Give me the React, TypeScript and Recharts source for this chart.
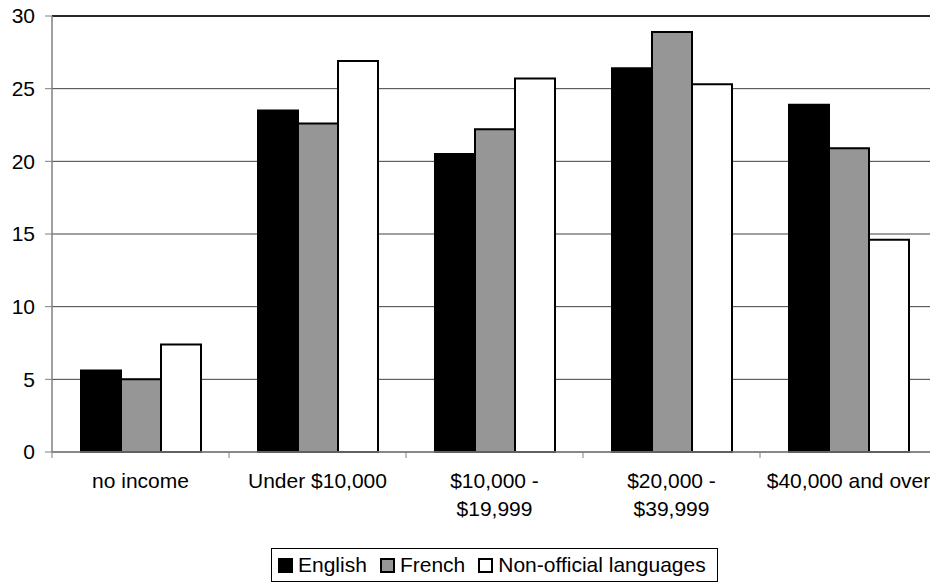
import React from "react";
import { Bar, BarChart, CartesianGrid, Legend, ReferenceLine, XAxis, YAxis } from "recharts";

const categories = ["no income", "Under $10,000", "$10,000 - $19,999", "$20,000 - $39,999", "$40,000 and over"];
const tickLines = [["no income"], ["Under $10,000"], ["$10,000 -", "$19,999"], ["$20,000 -", "$39,999"], ["$40,000 and over"]];
const english = [5.6, 23.5, 20.5, 26.4, 23.9];
const french = [5.0, 22.6, 22.2, 28.9, 20.9];
const nonOfficial = [7.4, 26.9, 25.7, 25.3, 14.6];
const yTicks = [0, 5, 10, 15, 20, 25, 30];

const series = [
  { key: "english", name: "English", fill: "#000000", stroke: "#000000" },
  { key: "french", name: "French", fill: "#969696", stroke: "#000000" },
  { key: "nonOfficial", name: "Non-official languages", fill: "#ffffff", stroke: "#000000" },
];

const data = categories.map((name, i) => ({
  name,
  english: english[i],
  french: french[i],
  nonOfficial: nonOfficial[i],
}));

const FONT = "'Liberation Sans', Arial, sans-serif";
const CHART_W = 940;
const AXIS_W = 52;
const RIGHT = 3;
const BAND = (CHART_W - AXIS_W - RIGHT) / categories.length;

function CategoryTick(props: any) {
  const { x, y, index } = props;
  const lines = tickLines[index] || [props.payload.value];
  return (
    <g>
      <line x1={x - BAND / 2} y1={y} x2={x - BAND / 2} y2={y + 6} stroke="#808080" strokeWidth={1} />
      <text x={x} y={y} textAnchor="middle" fontFamily={FONT} fontSize={21} fill="#000">
        {lines.map((l: string, i: number) => (
          <tspan key={i} x={x} dy={i === 0 ? 36 : 28}>{l}</tspan>
        ))}
      </text>
    </g>
  );
}

function LegendBox() {
  return (
    <div
      style={{
        border: "1px solid #000",
        background: "#fff",
        height: 34,
        boxSizing: "border-box",
        display: "flex",
        alignItems: "center",
        padding: "0 11px 0 6px",
        fontFamily: FONT,
        fontSize: 21,
        color: "#000",
        whiteSpace: "nowrap",
      }}
    >
      {series.map((s, i) => (
        <span key={s.key} style={{ display: "flex", alignItems: "center", marginLeft: i === 0 ? 0 : 13 }}>
          <span
            style={{
              width: 15,
              height: 15,
              boxSizing: "border-box",
              background: s.fill,
              border: "2px solid #000",
              marginRight: 5,
              display: "inline-block",
            }}
          />
          {s.name}
        </span>
      ))}
    </div>
  );
}

export default function App() {
  return (
    <div style={{ position: "fixed", left: 0, top: 0, width: 930, height: 582, overflow: "hidden", background: "#fff" }}>
      <BarChart
        width={CHART_W}
        height={582}
        data={data}
        margin={{ top: 16, right: RIGHT, left: 0, bottom: 0 }}
        barCategoryGap={29}
        barGap={0}
      >
        <CartesianGrid vertical={false} stroke="#404040" strokeWidth={1} />
        <ReferenceLine y={30} stroke="#000" strokeWidth={1.5} />
        <XAxis
          dataKey="name"
          height={96}
          interval={0}
          tickSize={0}
          tickMargin={0}
          axisLine={{ stroke: "#808080", strokeWidth: 1.5 }}
          tick={<CategoryTick />}
        />
        <YAxis
          width={AXIS_W}
          domain={[0, 30]}
          ticks={yTicks}
          interval={0}
          tickSize={7}
          tickMargin={10}
          axisLine={{ stroke: "#808080", strokeWidth: 1.5 }}
          tickLine={{ stroke: "#808080" }}
          tick={{ fontFamily: FONT, fontSize: 21, fill: "#000" }}
        />
        <Legend
          verticalAlign="bottom"
          content={<LegendBox />}
          wrapperStyle={{ left: 271, width: "auto", height: 34 }}
        />
        {series.map((s) => (
          <Bar
            key={s.key}
            dataKey={s.key}
            name={s.name}
            fill={s.fill}
            stroke={s.stroke}
            strokeWidth={2}
            isAnimationActive={false}
          />
        ))}
      </BarChart>
    </div>
  );
}
